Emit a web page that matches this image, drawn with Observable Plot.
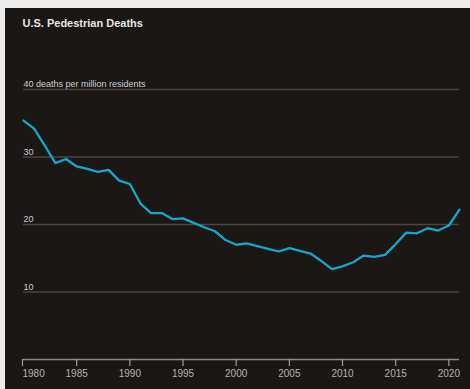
<!DOCTYPE html>
<html>
<head>
<meta charset="utf-8">
<script src="https://cdn.jsdelivr.net/npm/d3@7"></script>
<script src="https://cdn.jsdelivr.net/npm/@observablehq/plot@0.6"></script>
<style>
  html, body { margin: 0; padding: 0; background: #ececec; }
  body { width: 470px; height: 389px; overflow: hidden; font-family: "Liberation Sans", Arial, sans-serif; }
  #panel { position: absolute; left: 5px; top: 8px; width: 465px; height: 381px; background: #1b1714; }
  #title { position: absolute; left: 17.5px; top: 10.4px; font-size: 11px; line-height: 11px; font-weight: bold; color: #e6e6e6; white-space: nowrap; z-index: 2; }
  #chart { position: absolute; left: 0; top: 0; }
  #chart svg { display: block; }
</style>
</head>
<body>
<div id="panel">
  <div id="title">U.S. Pedestrian Deaths</div>
  <div id="chart"></div>
</div>
<script>
const years = d3.range(1980, 2022);
const deathsPerMillion = [
  35.4, 34.2, 31.7, 29.1, 29.7, 28.6, 28.25, 27.8, 28.1, 26.5,
  26.0, 23.1, 21.7, 21.7, 20.8, 20.9, 20.25, 19.6, 19.0, 17.7,
  17.0, 17.2, 16.8, 16.4, 16.0, 16.5, 16.1, 15.7, 14.6, 13.4,
  13.8, 14.4, 15.4, 15.2, 15.5, 17.1, 18.8, 18.7, 19.45, 19.1,
  19.85, 22.2
];
const gridValues = [10, 20, 30, 40];
const gridLabels = ["10", "20", "30", "40 deaths per million residents"];
const xTicks = [1980, 1985, 1990, 1995, 2000, 2005, 2010, 2015, 2020];

const data = years.map((y, i) => ({year: y, value: deathsPerMillion[i]}));
const grid = gridValues.map((v, i) => ({value: v, label: gridLabels[i]}));

const chart = Plot.plot({
  width: 465,
  height: 381,
  marginLeft: 18,
  marginRight: 11,
  marginTop: 81,
  marginBottom: 30,
  style: {background: "transparent", fontFamily: "'Liberation Sans', Arial, sans-serif", overflow: "visible"},
  x: {domain: [1980, 2021], label: null},
  y: {domain: [0, 40], label: null, axis: null},
  marks: [
    Plot.ruleY(grid, {y: "value", stroke: "#4b4643", strokeWidth: 1.5}),
    Plot.text(grid, {x: () => 1980, y: "value", text: "label", textAnchor: "start", lineAnchor: "bottom", dy: -2.5, fill: "#cfd0da", fontSize: 9}),
    Plot.ruleY([0], {stroke: "#8a8886", strokeWidth: 1.5}),
    Plot.axisX({ticks: xTicks.slice(1), tickFormat: d => String(d), label: null, tickSize: 7, tickPadding: 3, fontSize: 10, color: "#b4b4b4", stroke: "#a09e9c", strokeWidth: 1.2}),
    Plot.axisX({ticks: xTicks.slice(0, 1), tickFormat: d => String(d), label: null, tickSize: 7, tickPadding: 3, fontSize: 10, color: "#b4b4b4", stroke: "#a09e9c", strokeWidth: 1.2, textAnchor: "start", dx: -1}),
    Plot.line(data, {x: "year", y: "value", stroke: "#18a7c9", strokeWidth: 2.3, strokeLinejoin: "miter"})
  ]
});
document.getElementById("chart").appendChild(chart);
</script>
</body>
</html>
